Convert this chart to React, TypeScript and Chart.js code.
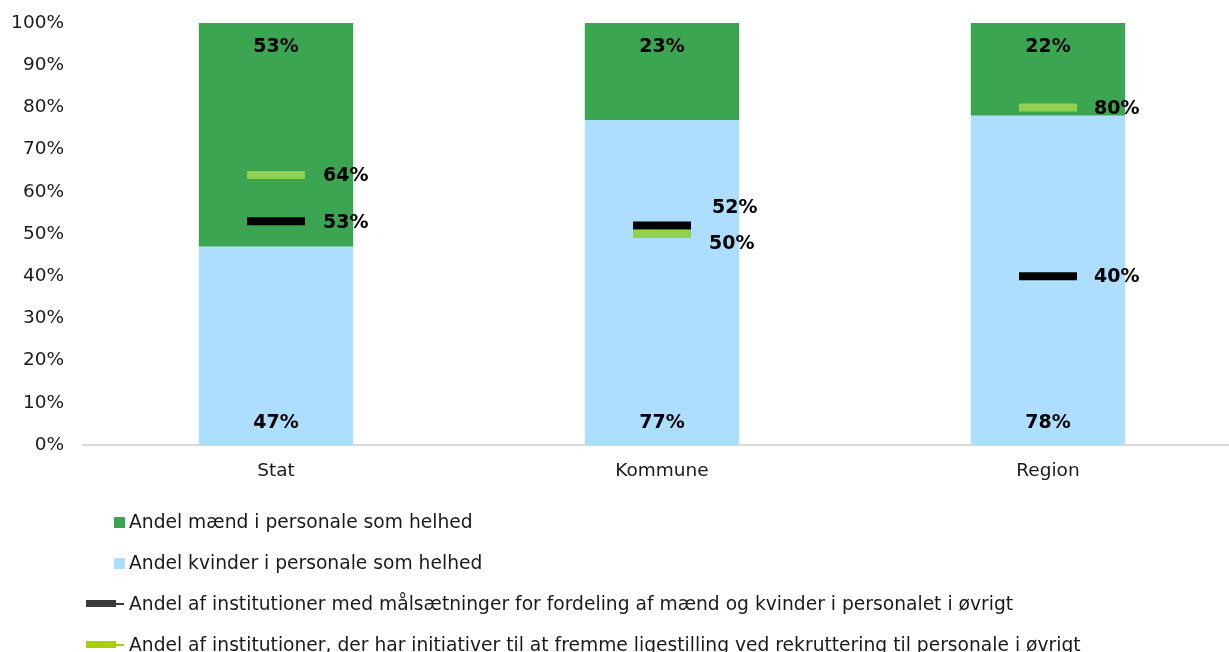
import React, { useEffect, useRef } from "react";
import { Chart, registerables } from "chart.js";

Chart.register(...registerables);

const categories = ["Stat", "Kommune", "Region"];
const menShare = [53, 23, 22];
const womenShare = [47, 77, 78];
const targetShare = [53, 52, 40];
const recruitShare = [64, 50, 80];
const yTickValues = [0, 10, 20, 30, 40, 50, 60, 70, 80, 90, 100];

const legendLabels = [
  "Andel mænd i personale som helhed",
  "Andel kvinder i personale som helhed",
  "Andel af institutioner med målsætninger for fordeling af mænd og kvinder i personalet i øvrigt",
  "Andel af institutioner, der har initiativer til at fremme ligestilling ved rekruttering til personale i øvrigt",
];

const FONT = '"DejaVu Sans", sans-serif';
const GREEN = "#3ba551";
const BLUE = "#addeff";
const BLACK = "#000000";
const LIME = "#92d050";

const labelPlugin = {
  id: "valueLabels",
  afterDatasetsDraw(chart: any) {
    const ctx = chart.ctx;
    ctx.save();
    ctx.font = `bold 19px ${FONT}`;
    ctx.fillStyle = "#000";
    ctx.textBaseline = "middle";
    const lineOffsets: Record<number, number[][]> = {
      2: [[47, 2], [50, -17], [46, 1]],
      3: [[47, 1], [47, 10], [46, 2]],
    };
    chart.data.datasets.forEach((ds: any, di: number) => {
      const meta = chart.getDatasetMeta(di);
      meta.data.forEach((el: any, i: number) => {
        const v = ds.data[i];
        const txt = v + "%";
        if (ds.type === "line") {
          const off = lineOffsets[di][i];
          ctx.textAlign = "left";
          ctx.fillText(txt, el.x + off[0], el.y + off[1]);
        } else if (di === 1) {
          ctx.textAlign = "center";
          ctx.fillText(txt, el.x, el.y + 24);
        } else {
          ctx.textAlign = "center";
          ctx.fillText(txt, el.x, el.base - 22);
        }
      });
    });
    ctx.restore();
  },
};

const legendPlugin = {
  id: "customLegend",
  afterDraw(chart: any) {
    const ctx = chart.ctx;
    ctx.save();
    ctx.font = `18.7px ${FONT}`;
    ctx.textBaseline = "middle";
    ctx.textAlign = "left";
    const ys = [522, 563, 604, 645];
    const textX = 129;
    ctx.fillStyle = GREEN;
    ctx.fillRect(114, ys[0] - 5, 11, 11);
    ctx.fillStyle = BLUE;
    ctx.fillRect(114, ys[1] - 5, 11, 11);
    const lineCols = ["#3a3a3a", "#a8cf0c"];
    [2, 3].forEach((k, j) => {
      ctx.fillStyle = lineCols[j];
      ctx.fillRect(86, ys[k] - 4, 30, 7);
      ctx.fillRect(116, ys[k] - 1, 8, 2);
    });
    ctx.fillStyle = "#1a1a1a";
    legendLabels.forEach((t, i) => {
      ctx.fillText(t, textX, ys[i] + 1);
    });
    ctx.restore();
  },
};

export default function App() {
  const ref = useRef<HTMLCanvasElement>(null);
  useEffect(() => {
    document.body.style.margin = "0";
    document.body.style.overflow = "hidden";
    const chart = new Chart(ref.current!, {
      type: "bar",
      data: {
        labels: categories,
        datasets: [
          {
            label: legendLabels[1],
            data: womenShare,
            backgroundColor: BLUE,
            order: 2,
            stack: "s",
          } as any,
          {
            label: legendLabels[0],
            data: menShare,
            backgroundColor: GREEN,
            order: 2,
            stack: "s",
          } as any,
          {
            type: "line",
            label: legendLabels[2],
            data: targetShare,
            showLine: false,
            pointStyle: "line",
            pointRadius: 29,
            pointHoverRadius: 29,
            pointBorderWidth: 8,
            pointBorderColor: BLACK,
            borderColor: BLACK,
            order: 0,
            stack: "a",
          } as any,
          {
            type: "line",
            label: legendLabels[3],
            data: recruitShare,
            showLine: false,
            pointStyle: "line",
            pointRadius: 29,
            pointHoverRadius: 29,
            pointBorderWidth: 8,
            pointBorderColor: LIME,
            borderColor: LIME,
            order: 1,
            stack: "b",
          } as any,
        ],
      },
      options: {
        animation: false,
        responsive: true,
        maintainAspectRatio: false,
        layout: { autoPadding: false, padding: { top: 23, bottom: 167, left: 0, right: 0 } } as any,
        datasets: {
          bar: { categoryPercentage: 1, barPercentage: 0.4 },
        } as any,
        plugins: {
          legend: { display: false },
          tooltip: { enabled: false },
        },
        scales: {
          x: {
            stacked: true,
            grid: { display: false, drawTicks: false },
            border: { display: true, color: "#d9d9d9", width: 2 },
            ticks: {
              color: "#1a1a1a",
              font: { family: FONT, size: 18.5 },
              padding: 15,
            },
            afterFit(scale: any) {
              scale.height = 40;
              scale.paddingLeft = 0;
              scale.paddingRight = 0;
            },
          },
          y: {
            stacked: true,
            min: 0,
            max: 100,
            grid: { display: false, drawTicks: false },
            border: { display: false },
            afterBuildTicks(scale: any) {
              scale.ticks = yTickValues.map((v) => ({ value: v }));
            },
            ticks: {
              color: "#1a1a1a",
              font: { family: FONT, size: 18.5 },
              padding: 19,
              callback: (v: any) => v + "%",
            },
            afterFit(scale: any) {
              scale.width = 83;
              scale.paddingTop = 0;
              scale.paddingBottom = 0;
            },
          },
        },
      },
      plugins: [labelPlugin, legendPlugin],
    });
    return () => chart.destroy();
  }, []);
  return (
    <div style={{ position: "absolute", left: 0, top: 0, width: 1229, height: 652, overflow: "hidden" }}>
      <div style={{ position: "relative", width: 1241, height: 652 }}>
        <canvas ref={ref} />
      </div>
    </div>
  );
}
